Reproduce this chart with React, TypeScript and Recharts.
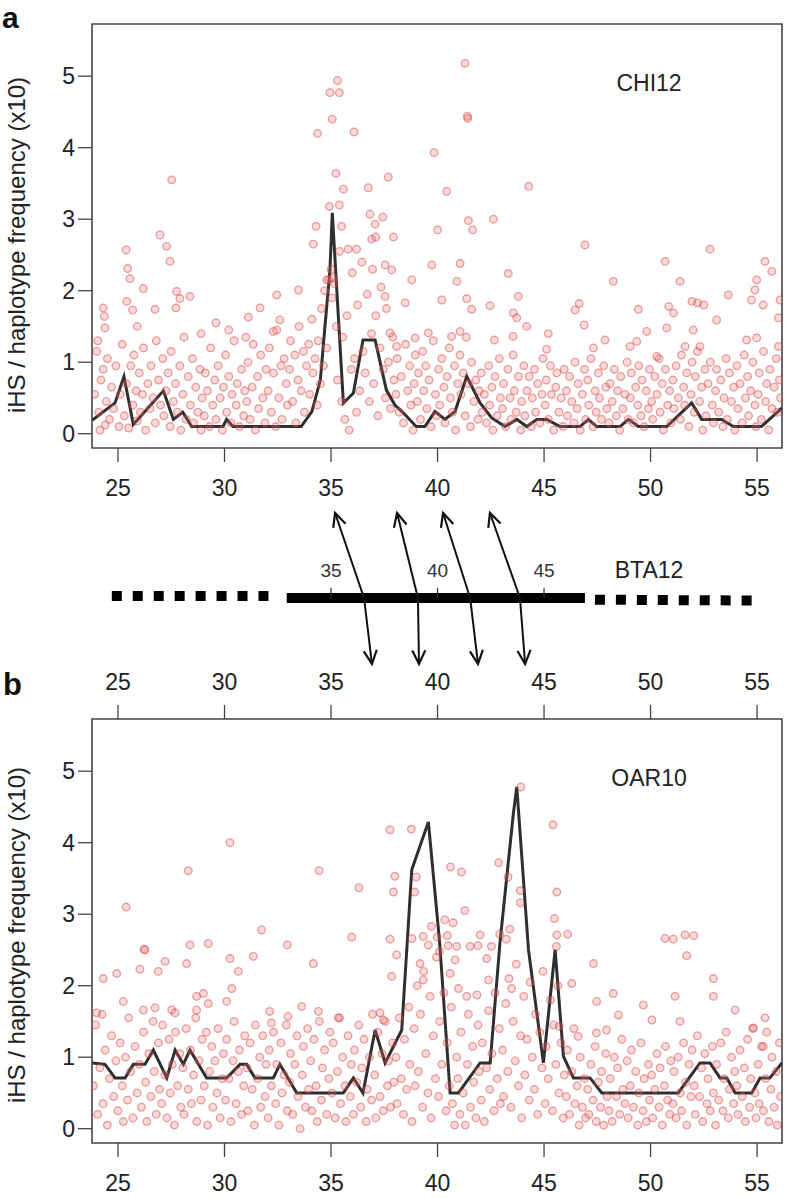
import React from 'react';
import { ComposedChart, Scatter, Line, XAxis, YAxis, ReferenceArea, ReferenceLine, ReferenceDot } from 'recharts';

const FONT = 'Liberation Sans, Arial, sans-serif';
const xTicks = [25, 30, 35, 40, 45, 50, 55];
const yTicks = [0, 1, 2, 3, 4, 5];
const X_DOMAIN: [number, number] = [23.78, 56.17];
const Y_DOMAIN: [number, number] = [-0.2, 5.73];

const chi12Line: [number, number][] = [
  [23.8,0.19],[24.86,0.43],[25.28,0.8],[25.72,0.13],[27.13,0.6],[27.6,0.2],[28.04,0.3],[28.46,0.1],[29.93,0.1],[30.1,0.2],[30.4,0.1],[33.6,0.1],[34.1,0.31],[34.5,0.75],[34.7,1.45],[34.95,2.29],[35.06,3.09],[35.58,0.43],[36.05,0.57],[36.5,1.31],[37.07,1.31],[37.6,0.61],[38.0,0.4],[38.4,0.29],[39.0,0.1],[39.4,0.1],[39.88,0.31],[40.35,0.2],[40.82,0.31],[41.37,0.8],[42.0,0.43],[42.54,0.22],[43.17,0.1],[43.72,0.2],[44.19,0.1],[44.66,0.2],[45.13,0.2],[45.75,0.1],[46.69,0.1],[47.08,0.2],[47.47,0.1],[48.57,0.1],[48.96,0.2],[49.43,0.1],[50.76,0.1],[51.93,0.43],[52.4,0.2],[53.34,0.2],[53.89,0.1],[55.2,0.1],[56.17,0.36],
];

const oar10Line: [number, number][] = [
  [23.8,0.92],[24.39,0.9],[24.86,0.71],[25.33,0.71],[25.72,0.9],[26.27,0.9],[26.66,1.1],[27.29,0.71],[27.68,1.1],[28.07,0.9],[28.38,1.1],[29.16,0.71],[30.1,0.71],[30.73,0.9],[31.04,0.9],[31.43,0.71],[32.29,0.71],[32.6,0.9],[33.39,0.5],[35.58,0.5],[36.05,0.71],[36.5,0.5],[37.07,1.38],[37.54,0.92],[38.32,1.38],[38.79,3.62],[39.57,4.29],[40.1,2.6],[40.59,0.5],[40.98,0.5],[42.0,0.92],[42.47,0.92],[42.93,2.6],[43.56,4.41],[43.72,4.78],[44.27,2.5],[44.97,0.92],[45.52,2.5],[45.91,1.01],[46.38,0.71],[47.16,0.71],[47.71,0.5],[51.3,0.5],[52.32,0.92],[52.79,0.92],[53.26,0.71],[53.58,0.71],[53.97,0.5],[54.75,0.5],[55.14,0.71],[55.6,0.71],[56.17,0.92],
];

const chi12Low: [number, number][] = [
  [23.9,0.55],[24.0,1.15],[24.1,0.3],[24.15,0.05],[24.2,0.75],[24.3,0.9],[24.4,0.12],[24.45,0.45],[24.5,1.05],[24.6,0.2],[24.7,0.65],[24.8,0.35],[24.9,0.95],
  [25.05,0.1],[25.1,0.55],[25.2,1.25],[25.3,0.25],[25.4,0.7],[25.5,0.08],[25.6,0.95],[25.7,0.4],[25.75,1.1],[25.85,0.6],[25.9,0.18],
  [26.0,0.85],[26.05,0.3],[26.15,0.55],[26.2,1.2],[26.3,0.05],[26.4,0.7],[26.5,0.35],[26.55,0.95],[26.65,0.5],[26.75,0.15],[26.8,1.3],[26.9,0.75],
  [27.0,0.4],[27.1,1.05],[27.15,0.25],[27.25,0.6],[27.35,0.85],[27.45,0.1],[27.5,1.15],[27.6,0.45],[27.7,0.7],[27.8,0.3],[27.9,0.95],[27.95,0.05],
  [28.05,0.55],[28.1,1.35],[28.2,0.2],[28.3,0.8],[28.4,0.4],[28.5,1.05],[28.55,0.15],[28.65,0.65],[28.75,0.3],[28.85,0.9],[28.9,0.05],[28.95,0.5],
  [29.05,0.25],[29.1,0.85],[29.2,0.6],[29.3,0.1],[29.35,1.2],[29.45,0.4],[29.55,0.75],[29.6,0.2],[29.7,0.95],[29.8,0.5],[29.9,0.05],[29.95,0.65],
  [30.05,1.1],[30.1,0.3],[30.2,0.8],[30.3,0.15],[30.35,0.55],[30.45,1.3],[30.55,0.4],[30.6,0.7],[30.7,0.1],[30.8,0.9],[30.9,0.25],[30.95,0.6],
  [31.05,0.45],[31.1,1.0],[31.2,0.2],[31.3,0.65],[31.35,1.25],[31.45,0.05],[31.55,0.8],[31.6,0.35],[31.7,1.1],[31.8,0.5],[31.9,0.15],[31.95,0.9],
  [32.05,0.6],[32.1,1.2],[32.2,0.3],[32.3,0.85],[32.4,0.1],[32.45,1.45],[32.55,0.5],[32.65,0.95],[32.7,0.2],[32.8,1.05],[32.9,0.7],[32.95,0.4],
  [33.05,0.9],[33.1,1.3],[33.2,0.45],[33.3,1.1],[33.35,0.15],[33.45,0.75],[33.5,1.5],[33.6,0.6],[33.7,1.15],[33.75,0.3],[33.85,0.95],[33.95,1.25],
  [34.0,0.55],[34.1,1.6],[34.15,0.85],[34.25,1.05],[34.35,0.4],[34.4,1.3],[34.5,0.7],[34.55,1.75],[34.65,0.95],[34.7,2.0],[34.8,1.2],[34.9,2.15],
  [35.0,2.3],[35.05,1.9],[35.15,2.1],[35.25,1.5],[35.3,0.75],[35.4,2.55],[35.5,0.45],[35.55,1.35],[35.65,0.2],[35.75,1.65],[35.85,0.05],[35.95,0.9],
  [36.0,2.25],[36.1,1.05],[36.2,0.3],[36.25,1.8],[36.35,0.6],[36.45,2.4],[36.5,1.15],[36.6,0.85],[36.7,1.95],[36.8,0.45],[36.9,1.4],[36.95,2.3],
  [37.0,0.7],[37.1,1.65],[37.2,0.25],[37.3,1.2],[37.35,2.05],[37.45,0.9],[37.55,0.5],[37.6,1.75],[37.7,1.0],[37.8,0.35],[37.9,1.35],[37.95,0.75],
  [38.05,0.55],[38.1,1.05],[38.2,0.3],[38.3,0.8],[38.4,0.15],[38.5,1.25],[38.6,0.6],[38.7,0.95],[38.75,0.4],[38.85,0.05],[38.9,0.7],[38.95,1.1],
  [39.05,0.45],[39.1,0.85],[39.2,0.2],[39.3,1.15],[39.35,0.6],[39.45,0.95],[39.5,0.35],[39.6,0.75],[39.7,0.1],[39.8,1.3],[39.9,0.55],[39.95,0.25],
  [40.05,0.9],[40.1,0.4],[40.2,1.05],[40.3,0.65],[40.35,0.15],[40.45,0.8],[40.55,1.2],[40.6,0.5],[40.7,0.3],[40.8,0.95],[40.85,0.05],[40.95,0.7],
  [41.05,1.1],[41.1,0.55],[41.2,0.85],[41.3,0.25],[41.35,1.35],[41.45,0.7],[41.55,0.1],[41.6,1.0],[41.7,0.45],[41.8,0.75],[41.9,0.2],[41.95,0.6],
  [42.05,0.85],[42.1,0.3],[42.2,0.55],[42.3,0.15],[42.4,0.95],[42.45,0.4],[42.55,0.65],[42.6,0.05],[42.7,0.8],[42.8,0.25],[42.9,1.05],[42.95,0.5],
  [43.05,0.35],[43.1,0.7],[43.2,0.1],[43.3,0.9],[43.4,0.5],[43.45,0.2],[43.55,1.1],[43.6,0.6],[43.7,0.3],[43.8,0.8],[43.9,0.05],[43.95,0.45],
  [44.05,0.95],[44.1,0.25],[44.2,0.6],[44.3,0.8],[44.4,0.1],[44.45,0.5],[44.55,0.9],[44.6,0.3],[44.7,0.7],[44.8,0.15],[44.9,0.55],[44.95,1.05],
  [45.05,0.4],[45.1,0.75],[45.2,0.2],[45.3,0.95],[45.35,0.55],[45.45,0.05],[45.55,0.65],[45.6,0.85],[45.7,0.3],[45.8,0.5],[45.9,0.1],[45.95,0.9],
  [46.05,0.6],[46.1,0.25],[46.2,0.8],[46.3,0.45],[46.4,0.15],[46.45,1.0],[46.55,0.35],[46.6,0.7],[46.7,0.05],[46.8,0.55],[46.9,0.9],[46.95,0.2],
  [47.05,0.75],[47.1,0.4],[47.2,1.05],[47.3,0.1],[47.4,0.6],[47.45,0.3],[47.55,0.85],[47.6,0.5],[47.7,0.2],[47.8,0.95],[47.9,0.65],[47.95,0.35],
  [48.05,0.15],[48.1,0.7],[48.2,0.45],[48.3,0.9],[48.4,0.25],[48.45,0.6],[48.55,0.05],[48.6,0.8],[48.7,0.35],[48.8,0.55],[48.9,1.0],[48.95,0.2],
  [49.05,0.5],[49.1,0.85],[49.2,0.15],[49.3,0.65],[49.4,0.4],[49.45,0.95],[49.55,0.25],[49.6,0.75],[49.7,0.1],[49.8,0.6],[49.9,0.35],[49.95,0.9],
  [50.05,0.45],[50.1,0.2],[50.2,0.8],[50.3,0.55],[50.4,1.05],[50.45,0.3],[50.55,0.7],[50.6,0.05],[50.7,0.9],[50.8,0.4],[50.9,0.6],[50.95,0.15],
  [51.05,0.75],[51.1,0.35],[51.2,0.95],[51.3,0.5],[51.4,0.2],[51.45,1.1],[51.55,0.65],[51.6,0.4],[51.7,0.85],[51.8,0.1],[51.9,0.55],[51.95,1.0],
  [52.05,0.3],[52.1,0.8],[52.2,1.15],[52.3,0.45],[52.4,0.65],[52.45,0.05],[52.55,0.9],[52.6,0.25],[52.7,0.7],[52.8,1.0],[52.9,0.4],[52.95,0.15],
  [53.05,0.6],[53.1,0.9],[53.2,0.3],[53.3,0.75],[53.4,0.1],[53.45,0.5],[53.55,1.05],[53.6,0.2],[53.7,0.85],[53.8,0.45],[53.9,0.65],[53.95,0.05],
  [54.05,0.95],[54.1,0.35],[54.2,0.7],[54.3,0.15],[54.4,1.1],[54.45,0.5],[54.55,0.8],[54.6,0.25],[54.7,0.6],[54.8,1.0],[54.9,0.4],[54.95,0.1],
  [55.05,0.55],[55.1,0.85],[55.2,0.2],[55.3,1.15],[55.4,0.45],[55.45,0.7],[55.55,0.05],[55.6,0.9],[55.7,0.35],[55.8,0.65],[55.9,1.05],[55.95,0.3],[56.05,0.75],[56.1,0.5],
];

const chi12High: [number, number][] = [
  [25.38,2.57],[25.45,2.31],[25.56,2.17],[25.41,1.85],[25.69,1.73],[26.19,2.03],[26.74,1.74],[24.31,1.76],[24.36,1.64],[24.39,1.48],[27.75,1.99],[27.9,1.89],[27.72,1.76],[28.38,1.92],[31.12,1.63],[31.67,1.76],[32.45,1.94],[33.47,2.01],[32.6,1.59],[32.29,1.43],[26.97,2.78],[27.28,2.62],[27.44,2.41],[27.52,3.55],
  [35.3,4.94],[34.95,4.77],[35.39,4.77],[35.06,4.4],[34.37,4.2],[36.08,4.22],[35.23,3.64],[35.58,3.42],[34.92,3.18],[35.39,3.2],[34.3,2.9],[35.5,2.9],[34.17,2.65],[36.75,3.44],[37.69,3.59],[36.83,3.07],[37.07,2.93],[37.43,3.03],[36.91,2.72],[37.1,2.75],[37.93,2.75],[35.81,2.58],[36.2,2.58],[34.8,2.15],[35.1,2.18],
  [41.29,5.18],[41.4,4.44],[41.42,4.41],[39.84,3.93],[40.43,3.39],[44.28,3.46],[40.0,2.85],[41.45,2.98],[41.65,2.85],[42.62,3.0],[46.92,2.64],[52.79,2.58],
  [37.54,2.36],[37.85,2.29],[39.73,2.36],[41.06,2.38],[38.79,2.15],[40.91,2.13],[37.54,1.92],[38.48,1.83],[40.2,1.87],[41.37,1.89],[41.6,1.74],[42.46,1.79],[43.32,2.24],[43.79,1.92],[43.56,1.69],[43.72,1.62],[44.19,1.5],[46.46,1.73],[46.65,1.82],[46.88,1.52],[45.2,1.4],[45.12,1.18],[48.25,2.13],[49.43,1.74],[50.68,2.41],[51.38,2.13],[50.85,1.78],[51.08,1.69],[51.94,1.85],[52.2,1.83],[52.5,1.8],[53.1,1.59],[53.65,1.94],[54.74,1.87],[54.9,2.01],[54.98,2.15],[55.37,2.41],[55.69,2.27],[55.29,1.8],[56.08,1.87],[56.0,1.62],[52.0,1.45],[50.76,1.48],[49.82,1.43],[49.35,1.29],[49.04,1.22],
  [38.95,1.34],[39.57,1.41],[37.77,1.41],[38.08,1.22],[40.66,1.36],[41.06,1.43],[42.67,1.31],[43.54,1.36],[47.32,1.2],[47.86,1.31],[50.29,1.08],[51.62,1.22],[52.32,1.22],[54.51,1.31],[54.98,1.34],[56.0,1.22],
  [29.6,1.55],[30.2,1.45],[31.0,1.35],[28.9,1.4],[25.9,1.5],[24.05,1.3],
];

const oar10Low: [number, number][] = [
  [23.85,0.6],[23.95,1.45],[24.05,0.2],[24.15,0.85],[24.25,1.6],[24.3,0.35],[24.4,1.1],[24.5,0.05],[24.6,0.7],[24.7,1.3],[24.8,0.45],[24.9,0.95],
  [25.0,0.25],[25.1,1.2],[25.2,0.6],[25.25,0.1],[25.35,1.0],[25.45,0.4],[25.5,1.55],[25.6,0.8],[25.7,0.15],[25.8,1.15],[25.9,0.5],
  [26.0,0.9],[26.1,0.3],[26.2,1.35],[26.3,0.65],[26.35,0.1],[26.45,1.05],[26.55,0.45],[26.65,1.5],[26.7,0.8],[26.8,0.2],[26.9,1.2],[26.95,0.55],
  [27.05,0.35],[27.1,1.45],[27.2,0.75],[27.3,0.15],[27.4,1.25],[27.45,0.5],[27.55,0.9],[27.65,0.05],[27.7,1.35],[27.8,0.6],[27.9,1.05],[27.95,0.3],
  [28.05,0.85],[28.1,0.2],[28.2,1.4],[28.3,0.55],[28.4,1.1],[28.45,0.35],[28.55,0.75],[28.65,1.55],[28.7,0.1],[28.8,0.95],[28.9,0.4],[28.95,1.25],
  [29.05,0.6],[29.15,1.35],[29.2,0.05],[29.3,0.8],[29.4,1.15],[29.45,0.3],[29.55,0.95],[29.65,0.5],[29.7,1.4],[29.8,0.15],[29.9,0.7],[29.95,1.05],
  [30.05,0.4],[30.1,1.25],[30.2,0.7],[30.3,0.1],[30.4,0.95],[30.45,1.5],[30.55,0.35],[30.65,0.8],[30.7,1.1],[30.8,0.2],[30.9,0.6],[30.95,1.3],
  [31.05,0.85],[31.1,0.25],[31.2,1.2],[31.3,0.55],[31.4,0.05],[31.45,1.45],[31.55,0.7],[31.65,1.0],[31.7,0.3],[31.8,1.3],[31.9,0.45],[31.95,0.9],
  [32.05,0.15],[32.1,1.1],[32.2,0.6],[32.3,1.35],[32.4,0.35],[32.45,0.9],[32.55,0.05],[32.65,1.2],[32.7,0.5],[32.8,0.75],[32.9,1.45],[32.95,0.25],
  [33.05,0.65],[33.1,1.05],[33.2,0.2],[33.3,0.9],[33.4,1.3],[33.45,0.45],[33.55,0.0],[33.65,0.75],[33.7,1.15],[33.8,0.3],[33.9,1.4],[33.95,0.55],
  [34.05,0.95],[34.1,0.25],[34.2,1.25],[34.3,0.6],[34.35,0.1],[34.45,1.5],[34.55,0.4],[34.6,0.85],[34.7,1.1],[34.8,0.2],[34.9,0.7],[34.95,1.35],
  [35.05,0.5],[35.1,1.2],[35.2,0.15],[35.3,0.8],[35.4,1.55],[35.45,0.35],[35.55,1.0],[35.65,0.6],[35.7,0.1],[35.8,1.3],[35.9,0.45],[35.95,0.9],
  [36.05,0.2],[36.1,1.1],[36.2,0.65],[36.3,1.45],[36.4,0.3],[36.45,0.85],[36.55,1.25],[36.65,0.1],[36.7,0.55],[36.8,1.0],[36.9,0.4],[36.95,1.6],
  [37.05,0.75],[37.1,0.15],[37.2,1.35],[37.3,0.45],[37.4,1.05],[37.45,0.25],[37.55,1.5],[37.65,0.6],[37.7,0.95],[37.8,0.3],[37.9,1.2],[37.95,0.65],
  [38.05,1.0],[38.1,0.35],[38.2,1.55],[38.3,0.7],[38.4,0.2],[38.45,1.25],[38.55,0.55],[38.65,1.7],[38.7,0.9],[38.8,0.1],[38.9,1.4],[38.95,0.6],
  [39.05,2.0],[39.1,0.8],[39.2,1.6],[39.3,0.3],[39.35,2.2],[39.45,1.05],[39.55,0.5],[39.65,1.85],[39.7,0.15],[39.8,1.3],[39.9,0.7],[39.95,2.4],
  [40.05,0.45],[40.1,1.5],[40.2,0.9],[40.3,1.9],[40.4,0.25],[40.45,1.2],[40.55,0.6],[40.65,1.7],[40.7,0.35],[40.8,0.05],[40.9,1.0],[40.95,0.7],
  [41.05,0.2],[41.1,1.35],[41.2,0.5],[41.3,0.05],[41.4,0.9],[41.45,1.6],[41.55,0.3],[41.65,1.15],[41.7,0.65],[41.8,0.15],[41.9,1.45],[41.95,0.8],
  [42.05,0.4],[42.1,1.2],[42.2,0.1],[42.3,0.85],[42.4,1.65],[42.45,0.55],[42.55,1.05],[42.65,0.25],[42.7,1.9],[42.8,0.7],[42.9,1.4],[42.95,0.35],
  [43.05,1.1],[43.1,0.45],[43.2,1.75],[43.3,0.8],[43.35,2.1],[43.45,0.3],[43.55,1.5],[43.65,0.95],[43.7,2.3],[43.8,0.6],[43.9,1.3],[43.95,0.15],
  [44.05,1.85],[44.1,0.75],[44.2,1.25],[44.3,0.4],[44.35,2.05],[44.45,1.0],[44.55,0.55],[44.6,1.6],[44.7,0.2],[44.8,1.35],[44.9,0.85],[44.95,2.2],
  [45.05,0.35],[45.1,1.15],[45.2,0.7],[45.3,1.8],[45.4,0.25],[45.45,1.45],[45.55,0.9],[45.65,2.0],[45.7,0.5],[45.8,1.2],[45.9,0.15],[45.95,0.75],
  [46.05,0.45],[46.1,1.1],[46.2,0.2],[46.3,0.8],[46.4,1.4],[46.45,0.35],[46.55,0.6],[46.65,0.05],[46.7,1.0],[46.8,0.3],[46.9,0.7],[46.95,0.15],
  [47.05,0.55],[47.1,0.2],[47.2,0.9],[47.3,0.4],[47.4,1.15],[47.45,0.1],[47.55,0.65],[47.65,0.3],[47.7,0.8],[47.8,0.05],[47.9,1.05],[47.95,0.45],
  [48.05,0.25],[48.1,0.7],[48.2,0.1],[48.3,1.0],[48.4,0.45],[48.45,0.85],[48.55,0.2],[48.65,1.25],[48.7,0.55],[48.8,0.35],[48.9,0.95],[48.95,0.15],
  [49.05,0.6],[49.1,1.1],[49.2,0.3],[49.3,0.8],[49.4,0.05],[49.45,0.5],[49.55,1.2],[49.65,0.25],[49.7,0.7],[49.8,0.1],[49.9,0.9],[49.95,0.4],
  [50.05,0.75],[50.1,0.15],[50.2,0.55],[50.3,1.05],[50.4,0.3],[50.45,0.85],[50.55,0.05],[50.65,0.6],[50.7,1.15],[50.8,0.4],[50.9,0.2],[50.95,0.95],
  [51.05,0.35],[51.1,0.8],[51.2,0.15],[51.3,1.0],[51.4,0.5],[51.45,0.25],[51.55,1.2],[51.65,0.65],[51.7,0.05],[51.8,0.9],[51.9,0.45],[51.95,1.1],
  [52.05,0.6],[52.1,0.2],[52.2,1.3],[52.3,0.45],[52.4,0.85],[52.45,0.1],[52.55,1.05],[52.65,0.35],[52.7,0.7],[52.8,0.25],[52.9,1.15],[52.95,0.5],
  [53.05,0.05],[53.1,0.9],[53.2,0.4],[53.3,1.2],[53.4,0.25],[53.45,0.7],[53.55,1.35],[53.65,0.15],[53.7,0.55],[53.8,1.0],[53.9,0.35],[53.95,0.8],
  [54.05,0.6],[54.1,0.2],[54.2,1.1],[54.3,0.45],[54.4,0.85],[54.45,0.1],[54.55,1.25],[54.65,0.3],[54.7,0.7],[54.8,1.4],[54.9,0.5],[54.95,0.15],
  [55.05,0.9],[55.1,0.35],[55.2,1.15],[55.3,0.25],[55.4,0.7],[55.45,1.35],[55.55,0.1],[55.65,0.55],[55.7,1.0],[55.8,0.3],[55.9,0.8],[55.95,0.05],[56.05,1.2],[56.1,0.45],
];

const oar10High: [number, number][] = [
  [30.26,4.0],[28.3,3.61],[34.44,3.61],[25.38,3.1],[36.31,3.37],[37.77,4.18],[38.0,3.53],[37.93,3.31],[31.74,2.78],[35.97,2.68],[37.77,2.65],[26.22,2.51],[28.38,2.57],[29.24,2.59],[32.95,2.57],
  [43.91,4.78],[45.42,4.25],[38.77,4.19],[42.87,3.72],[39.0,3.52],[38.93,3.31],[40.61,3.66],[41.12,3.59],[43.31,3.52],[43.88,3.33],[43.89,3.16],[45.6,3.31],[41.28,3.05],[40.34,2.92],[40.73,2.88],[39.71,2.83],[39.99,2.68],[40.46,2.7],[38.8,2.66],[42.92,2.72],[43.39,2.79],[43.23,2.65],[45.49,2.94],[46.11,2.72],[51.07,2.65],[52.03,2.7],[40.49,2.56],[41.9,2.56],[42.53,2.55],[45.58,2.55],
  [24.31,2.1],[24.94,2.17],[25.25,1.78],[26.03,2.23],[26.27,2.5],[26.89,2.2],[27.21,2.34],[28.22,2.31],[29.01,1.89],[28.69,1.85],[29.24,1.75],[30.26,2.38],[30.65,2.2],[30.34,1.96],[30.1,1.78],[31.35,2.41],[34.17,2.31],[37.85,2.13],[38.08,2.43],[33.62,1.71],[34.41,1.64],[32.98,1.57],[32.12,1.64],[32.2,1.48],[35.34,1.55],[37.3,1.62],[37.46,1.52],[24.0,1.62],[26.19,1.66],[26.74,1.69],[27.52,1.66],[27.68,1.62],[28.69,1.66],
  [45.6,2.71],[50.68,2.66],[51.62,2.71],[51.7,2.42],[39.33,2.69],[39.57,2.57],[39.18,2.31],[39.33,2.08],[40.1,2.48],[40.9,2.55],[41.53,2.55],[42.0,2.71],[42.31,2.38],[40.82,2.36],[40.59,2.17],[40.98,1.96],[41.37,1.85],[41.85,1.87],[42.39,2.08],[43.48,1.96],[46.3,2.03],[47.32,2.31],[48.25,1.89],[47.47,1.78],[49.66,1.73],[48.49,1.59],[50.06,1.52],[51.15,1.85],[51.38,1.5],[52.95,2.1],[52.95,1.85],[53.97,1.66],[55.37,1.55],[54.82,1.41],[55.29,1.15],[47.46,1.34],[47.93,1.38],[46.6,1.29],[45.71,1.43],
];

// BTA12 schematic (positions in Mb on the shared x scale)
const btaTicks = [35, 40, 45];
const btaDottedLeft: [number, number] = [24.71, 32.35];
const btaSolid: [number, number] = [32.92, 46.92];
const btaDottedRight: [number, number] = [47.39, 55.0];
const arrowChiX = [35.19, 38.1, 40.26, 42.46];
const arrowBtaX = [36.55, 39.08, 41.53, 43.87];
const arrowOarX = [36.92, 39.13, 41.9, 44.11];
const LEVEL_CHI = 1;
const LEVEL_BTA = 0;
const LEVEL_OAR = -0.776;
const MID_DOMAIN: [number, number] = [-0.965, 1.153];

const toXY = (arr: [number, number][]) => arr.map(([x, y]) => ({ x, y }));

const dotShape = (p: any) => (
  <circle cx={p.cx} cy={p.cy} r={3.8} fill="rgba(232,120,120,0.28)" stroke="rgba(210,55,55,0.45)" strokeWidth={1.3} />
);

const arrowShape = (p: any) => {
  const { x1, y1, x2, y2 } = p;
  const a = Math.atan2(y2 - y1, x2 - x1);
  const L = 15;
  const s = 0.45;
  const ax = x2 - L * Math.cos(a - s);
  const ay = y2 - L * Math.sin(a - s);
  const bx = x2 - L * Math.cos(a + s);
  const by = y2 - L * Math.sin(a + s);
  return (
    <g>
      <line x1={x1} y1={y1} x2={x2} y2={y2} stroke="#111" strokeWidth={2} />
      <polyline points={`${ax},${ay} ${x2},${y2} ${bx},${by}`} fill="none" stroke="#111" strokeWidth={2.2} />
    </g>
  );
};

const tickLabelShape = (label: string) => (p: any) => (
  <g>
    <line x1={p.x1} y1={p.y1} x2={p.x2} y2={p.y2} stroke="#333" strokeWidth={1.2} />
    <text x={p.x2} y={Math.min(p.y1, p.y2) - 11} textAnchor="middle" fontSize={19} fontFamily={FONT} fill="#333">{label}</text>
  </g>
);

const textShape = (label: string, size: number) => (p: any) => (
  <text x={p.cx} y={p.cy} textAnchor="middle" fontSize={size} fontFamily={FONT} fill="#222">{label}</text>
);

const tickStyle = { fontSize: 23, fill: '#222', fontFamily: FONT };
const axisLineStyle = { stroke: '#444', strokeWidth: 1.3 };

const yLabel = (cy: number) => () => (
  <text x={25} y={cy} transform={`rotate(-90, 25, ${cy})`} textAnchor="middle" fontSize={24} fontFamily={FONT} fill="#222">
    iHS / haplotype frequency (x10)
  </text>
);

function Panel({ points, line, name, top, height, margin, withTopAxis, labelCy }: any) {
  return (
    <div style={{ position: 'absolute', left: 0, top }}>
      <ComposedChart width={787} height={height} margin={margin}>
        <XAxis
          type="number" dataKey="x" domain={X_DOMAIN} allowDataOverflow ticks={xTicks}
          axisLine={false} tickLine={axisLineStyle} tickSize={14} tickMargin={18} height={50}
          tick={tickStyle} interval={0}
        />
        {withTopAxis && (
          <XAxis
            xAxisId="top" orientation="top" type="number" dataKey="x" domain={X_DOMAIN} allowDataOverflow ticks={xTicks}
            axisLine={false} tickLine={axisLineStyle} tickSize={14} tickMargin={15} height={60}
            tick={tickStyle} interval={0}
          />
        )}
        <YAxis
          type="number" dataKey="y" domain={Y_DOMAIN} allowDataOverflow ticks={yTicks} width={92}
          axisLine={false} tickLine={axisLineStyle} tickSize={14} tickMargin={3} tick={tickStyle} interval={0}
          label={{ content: yLabel(labelCy) }}
        />
        <ReferenceArea x1={X_DOMAIN[0]} x2={X_DOMAIN[1]} y1={Y_DOMAIN[0]} y2={Y_DOMAIN[1]} fill="none" stroke="#444" strokeWidth={1.6} fillOpacity={0} />
        <Scatter data={points} dataKey="y" shape={dotShape} isAnimationActive={false} />
        <Line data={line} dataKey="y" type="linear" stroke="#2f2f2f" strokeWidth={3} dot={false} activeDot={false} isAnimationActive={false} />
        {withTopAxis && (
          <Line xAxisId="top" data={line} dataKey="y" type="linear" stroke="none" strokeWidth={0} dot={false} activeDot={false} isAnimationActive={false} legendType="none" />
        )}
        <ReferenceDot x={49.93} y={4.79} r={0} shape={textShape(name, 23)} />
      </ComposedChart>
    </div>
  );
}

function Middle() {
  return (
    <div style={{ position: 'absolute', left: 0, top: 500 }}>
      <ComposedChart width={787} height={180} margin={{ top: 0, right: 5, bottom: 0, left: 92 }}>
        <XAxis type="number" dataKey="x" domain={X_DOMAIN} allowDataOverflow hide />
        <YAxis type="number" dataKey="y" domain={MID_DOMAIN} allowDataOverflow hide />
        <ReferenceLine segment={[{ x: btaDottedLeft[0], y: 0.024 }, { x: btaDottedLeft[1], y: 0.024 }]} stroke="#000" strokeWidth={10} strokeDasharray="10 10.95" />
        <ReferenceLine segment={[{ x: btaDottedRight[0], y: -0.02 }, { x: btaDottedRight[1], y: -0.03 }]} stroke="#000" strokeWidth={10} strokeDasharray="10 10.95" />
        <ReferenceLine segment={[{ x: btaSolid[0], y: LEVEL_BTA }, { x: btaSolid[1], y: LEVEL_BTA }]} stroke="#000" strokeWidth={10} />
        {btaTicks.map((t) => (
          <ReferenceLine key={t} segment={[{ x: t, y: LEVEL_BTA }, { x: t, y: 0.12 }]} shape={tickLabelShape(String(t))} />
        ))}
        {arrowBtaX.map((b, i) => (
          <ReferenceLine key={'u' + i} segment={[{ x: b, y: LEVEL_BTA }, { x: arrowChiX[i], y: LEVEL_CHI }]} shape={arrowShape} />
        ))}
        {arrowBtaX.map((b, i) => (
          <ReferenceLine key={'d' + i} segment={[{ x: b, y: LEVEL_BTA }, { x: arrowOarX[i], y: LEVEL_OAR }]} shape={arrowShape} />
        ))}
        <ReferenceDot x={49.93} y={0.235} r={0} shape={textShape('BTA12', 23)} />
      </ComposedChart>
    </div>
  );
}

export default function App() {
  const chiPts = toXY([...chi12Low, ...chi12High]);
  const oarPts = toXY([...oar10Low, ...oar10High]);
  return (
    <div style={{ position: 'absolute', left: 0, top: 0, width: 787, height: 1198, background: '#fff', fontFamily: FONT }}>
      <Panel points={chiPts} line={toXY(chi12Line)} name="CHI12" top={0} height={510}
        margin={{ top: 24, right: 5, bottom: 12, left: 0 }} withTopAxis={false} labelCy={245} />
      <Middle />
      <Panel points={oarPts} line={toXY(oar10Line)} name="OAR10" top={640} height={558}
        margin={{ top: 19, right: 5, bottom: 5, left: 0 }} withTopAxis={true} labelCy={295} />
      <svg width={787} height={1198} style={{ position: 'absolute', left: 0, top: 0, pointerEvents: 'none' }}>
        <text x={2} y={28} fontSize={30} fontWeight="bold" fontFamily={FONT} fill="#111">a</text>
        <text x={3} y={695} fontSize={31} fontWeight="bold" fontFamily={FONT} fill="#111">b</text>
      </svg>
    </div>
  );
}
